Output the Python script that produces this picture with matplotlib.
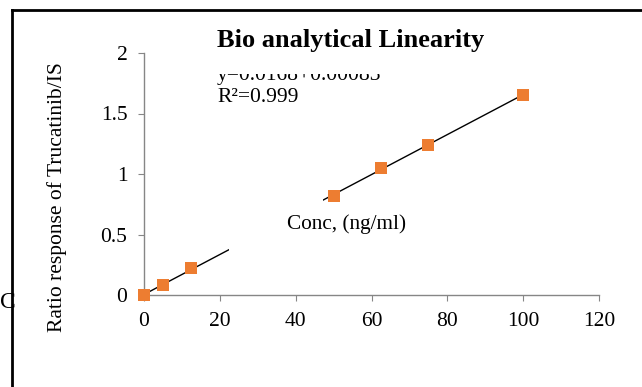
import matplotlib
matplotlib.use("Agg")
import matplotlib.pyplot as plt
import numpy as np
from matplotlib.lines import Line2D
from matplotlib.patches import Rectangle

# calibration data
conc = [0, 5, 12.5, 50, 62.5, 75, 100]
ratio = [0.0, 0.083, 0.22, 0.82, 1.052, 1.24, 1.653]
x_ticks = [0, 20, 40, 60, 80, 100, 120]
y_ticks = [0, 0.5, 1, 1.5, 2]
y_tick_labels = ["0", "0.5", "1", "1.5", "2"]

W, H = 642, 387
plt.rcParams["font.family"] = ["Liberation Serif", "DejaVu Serif"]

fig = plt.figure(figsize=(W / 100, H / 100), dpi=100)


def fx(px):
    return px / W


def fy(py):
    return 1 - py / H


ax = fig.add_axes([fx(144), fy(295), fx(599) - fx(144), fy(53) - fy(295)])

# trendline from a linear fit of the points
slope, icept = np.polyfit(conc, ratio, 1)
xl = np.array([0, 100])
ax.plot(xl, slope * xl + icept, color="black", lw=1, zorder=2)

# white box of the misplaced axis title hides part of the line
ax.add_patch(Rectangle((22.4, 0.3), 24.7, 0.6, facecolor="white",
                       edgecolor="none", zorder=3))

ax.scatter(conc, ratio, marker="s", s=80, color="#ED7D31", zorder=4,
           linewidths=0, clip_on=False)

ax.set_xlim(0, 120)
ax.set_ylim(0, 2)
ax.set_xticks(x_ticks)
ax.set_yticks(y_ticks)
ax.set_yticklabels(y_tick_labels)
for s in ["top", "right"]:
    ax.spines[s].set_visible(False)
for s in ["left", "bottom"]:
    ax.spines[s].set_color("#868686")
    ax.spines[s].set_linewidth(1)
ax.tick_params(axis="both", colors="#868686", labelcolor="black",
               labelsize=15.5, length=4, direction="out")
ax.tick_params(axis="x", pad=8)
ax.tick_params(axis="y", pad=8)
ax.patch.set_alpha(0)

fig.text(fx(57), fy(197), "Ratio response of Trucatinib/IS", fontsize=15.5,
         rotation=90, ha="center", va="center")

fig.text(fx(351), fy(47), "Bio analytical Linearity", fontsize=19,
         fontweight="bold", ha="center", va="baseline")
fig.text(fx(217), fy(80), "y=0.0168+0.00083", fontsize=15.5,
         ha="left", va="baseline")
# top of the equation is cut off
fig.add_artist(Rectangle((fx(200), fy(73.8)), fx(420) - fx(200),
                         fy(57) - fy(73.8), transform=fig.transFigure,
                         facecolor="white", edgecolor="none", zorder=5))
fig.text(fx(217), fy(102), "R²=0.999", fontsize=15.5, ha="left",
         va="baseline")
fig.text(fx(287), fy(229), "Conc, (ng/ml)", fontsize=15.3, ha="left",
         va="baseline")
fig.text(fx(0), fy(308), "C", fontsize=17, ha="left", va="baseline")

# chart frame, cut off at the right and bottom
fig.add_artist(Line2D([fx(12), fx(12)], [fy(10), fy(H + 5)], color="black",
                      lw=2, transform=fig.transFigure, zorder=6))
fig.add_artist(Line2D([fx(12), fx(W + 5)], [fy(10), fy(10)], color="black",
                      lw=2, transform=fig.transFigure, zorder=6))

fig.savefig("out.png", dpi=100)
